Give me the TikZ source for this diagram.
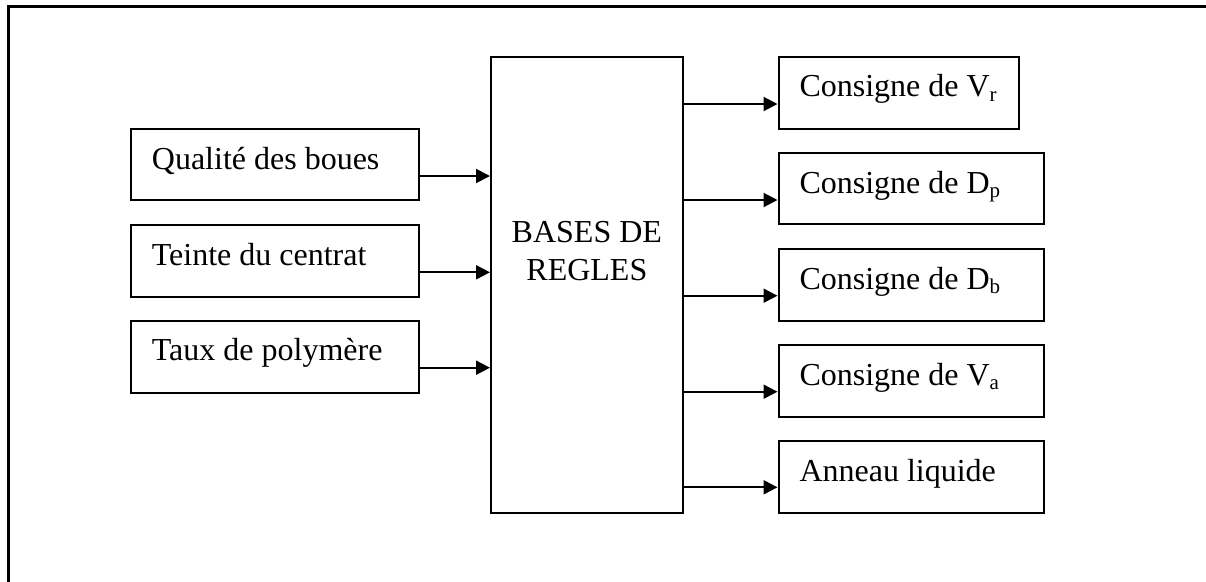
\documentclass[tikz,border=0pt]{standalone}
\usepackage{fontspec}
\setmainfont{Liberation Serif}
\usetikzlibrary{arrows.meta,calc}
\newcommand{\sub}[1]{\raisebox{-4.3pt}{\fontsize{21}{21}\selectfont #1}}
\begin{document}
\begin{tikzpicture}[x=1pt,y=-1pt,
  box/.style={draw,line width=2pt,anchor=north west,inner sep=0pt,minimum width=#1},
  txt/.style={anchor=base west,inner sep=0pt,font=\fontsize{32}{38}\selectfont},
  arr/.style={line width=2pt,-{Triangle[length=14pt,width=14pt]}}]
\useasboundingbox (0,0) rectangle (1206,581);
\draw[line width=2.5pt] (1210,6.5) -- (8.5,6.5) -- (8.5,590);
% input boxes
\node[box=288.3,minimum height=71] (q) at (130,128.3) {};
\node[box=288.3,minimum height=71.4] (t) at (130,224.3) {};
\node[box=288.3,minimum height=72.3] (p) at (130,320) {};
\node[txt] (qt) at ($(q.north west)+(21.7,40.7)$) {Qualité des boues};
\node[txt] (tt) at ($(t.north west)+(21.7,40.7)$) {Teinte du centrat};
\node[txt] (pt) at ($(p.north west)+(21.7,40.7)$) {Taux de polymère};
% big box
\node[box=191.7,minimum height=456] (b) at (490,55.7) {};
\node[font=\fontsize{32}{38}\selectfont,align=center,anchor=base,inner sep=0pt] (bt) at ($(b.north)+(0,224.3)$) {BASES DE\\REGLES};
% output boxes
\node[box=240.8,minimum height=72] (o1) at (777.5,55.7) {};
\node[box=265.2,minimum height=71] (o2) at (777.5,152.3) {};
\node[box=265.2,minimum height=71.7] (o3) at (777.5,248.3) {};
\node[box=265.2,minimum height=71.7] (o4) at (777.5,344) {};
\node[box=265.2,minimum height=72.3] (o5) at (777.5,440) {};
\node[txt] (o1t) at ($(o1.north west)+(21.8,41)$) {Consigne de V\sub{r}};
\node[txt] (o2t) at ($(o2.north west)+(21.8,41)$) {Consigne de D\sub{p}};
\node[txt] (o3t) at ($(o3.north west)+(21.8,41)$) {Consigne de D\sub{b}};
\node[txt] (o4t) at ($(o4.north west)+(21.8,41)$) {Consigne de V\sub{a}};
\node[txt] (o5t) at ($(o5.north west)+(21.8,41)$) {Anneau liquide};
% input arrows
\coordinate (y1) at (0,176);
\coordinate (y2) at (0,272.3);
\coordinate (y3) at (0,367.7);
\draw[arr] (q.east |- y1) -- (b.west |- y1);
\draw[arr] (t.east |- y2) -- (b.west |- y2);
\draw[arr] (p.east |- y3) -- (b.west |- y3);
% output arrows
\coordinate (z1) at (0,104);
\coordinate (z2) at (0,200);
\coordinate (z3) at (0,295.7);
\coordinate (z4) at (0,391.7);
\coordinate (z5) at (0,487.3);
\draw[arr] (b.east |- z1) -- (o1.west |- z1);
\draw[arr] (b.east |- z2) -- (o2.west |- z2);
\draw[arr] (b.east |- z3) -- (o3.west |- z3);
\draw[arr] (b.east |- z4) -- (o4.west |- z4);
\draw[arr] (b.east |- z5) -- (o5.west |- z5);
\end{tikzpicture}
\end{document}
